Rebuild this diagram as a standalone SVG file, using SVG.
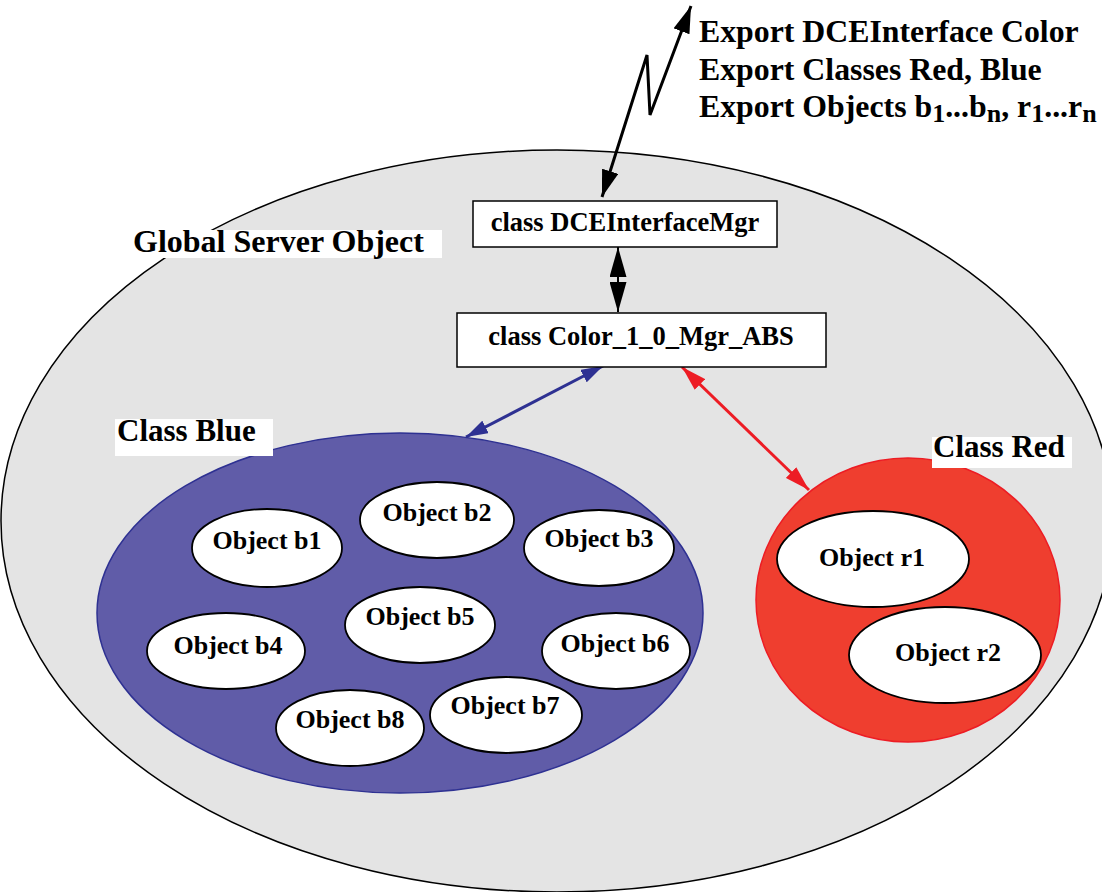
<svg xmlns="http://www.w3.org/2000/svg" width="1102" height="892" viewBox="0 0 1102 892">
  <style>
    text { font-family: "Liberation Serif", "Times New Roman", serif; font-weight: bold; fill: #000; }
    .lbl { font-size: 31px; }
    .lblg { font-size: 32px; }
    .exp { font-size: 31.8px; }
    .box { fill: #fff; stroke: #000; stroke-width: 1.5; }
    .boxt { font-size: 26.5px; text-anchor: middle; }
    .obj { fill: #fff; stroke: #000; stroke-width: 1.8; }
    .objt { font-size: 26px; text-anchor: middle; }
    .bg { fill: #fff; stroke: none; }
  </style>
  <defs>
    <marker id="ahBlack" markerUnits="userSpaceOnUse" markerWidth="27" markerHeight="17" refX="27" refY="8.5" orient="auto-start-reverse">
      <path d="M0,0 L27,8.5 L0,17 z" fill="#000"/>
    </marker>
    <marker id="ahV" markerUnits="userSpaceOnUse" markerWidth="30" markerHeight="17" refX="30" refY="8.5" orient="auto-start-reverse">
      <path d="M0,0 L30,8.5 L0,17 z" fill="#000"/>
    </marker>
    <marker id="ahBlue" markerUnits="userSpaceOnUse" markerWidth="22" markerHeight="14" refX="22" refY="7" orient="auto-start-reverse">
      <path d="M0,0 L22,7 L0,14 z" fill="#2e3192"/>
    </marker>
    <marker id="ahRed" markerUnits="userSpaceOnUse" markerWidth="25" markerHeight="15" refX="25" refY="7.5" orient="auto-start-reverse">
      <path d="M0,0 L25,7.5 L0,15 z" fill="#ed1c24"/>
    </marker>
  </defs>

  <g id="global-server">
    <ellipse cx="557" cy="521" rx="556" ry="371" fill="#e4e4e4" stroke="#000" stroke-width="1.5"/>
  </g>

  <g id="class-blue">
    <ellipse cx="400" cy="613" rx="303" ry="180" fill="#605ca8" stroke="#2e3192" stroke-width="1.5"/>
  </g>

  <g id="class-red">
    <ellipse cx="908" cy="600" rx="152" ry="142" fill="#ef3e2f" stroke="#ed1c24" stroke-width="1.5"/>
  </g>

  <g id="label-global">
    <rect class="bg" x="131" y="230" width="311" height="28"/>
    <text class="lblg" x="133" y="252">Global Server Object</text>
  </g>
  <g id="label-blue">
    <rect class="bg" x="115" y="419" width="158" height="37"/>
    <text class="lbl" x="117" y="441">Class Blue</text>
  </g>
  <g id="label-red">
    <rect class="bg" x="932" y="437" width="140" height="31"/>
    <text class="lbl" x="933" y="457">Class Red</text>
  </g>

  <g id="export-text">
    <text class="exp" x="699" y="42">Export DCEInterface Color</text>
    <text class="exp" x="699" y="80">Export Classes Red, Blue</text>
    <text class="exp" x="699" y="117">Export Objects b<tspan font-size="26" dy="5">1</tspan><tspan dy="-5">...b</tspan><tspan font-size="26" dy="5">n</tspan><tspan dy="-5">, r</tspan><tspan font-size="26" dy="5">1</tspan><tspan dy="-5">...r</tspan><tspan font-size="26" dy="5">n</tspan></text>
  </g>

  <g id="obj-b1"><ellipse class="obj" cx="267" cy="548" rx="75" ry="39"/><text class="objt" x="267" y="549">Object b1</text></g>
  <g id="obj-b2"><ellipse class="obj" cx="437" cy="520" rx="77" ry="38"/><text class="objt" x="437" y="521">Object b2</text></g>
  <g id="obj-b3"><ellipse class="obj" cx="599" cy="548" rx="75" ry="38"/><text class="objt" x="599" y="547">Object b3</text></g>
  <g id="obj-b4"><ellipse class="obj" cx="226" cy="651" rx="79" ry="38"/><text class="objt" x="228" y="654">Object b4</text></g>
  <g id="obj-b5"><ellipse class="obj" cx="420" cy="625" rx="75" ry="38"/><text class="objt" x="420" y="625">Object b5</text></g>
  <g id="obj-b6"><ellipse class="obj" cx="616" cy="651" rx="74" ry="38"/><text class="objt" x="615" y="652">Object b6</text></g>
  <g id="obj-b7"><ellipse class="obj" cx="506" cy="715" rx="76" ry="38"/><text class="objt" x="505" y="714">Object b7</text></g>
  <g id="obj-b8"><ellipse class="obj" cx="350" cy="728" rx="74" ry="38"/><text class="objt" x="350" y="728">Object b8</text></g>
  <g id="obj-r1"><ellipse class="obj" cx="873" cy="559" rx="96" ry="48"/><text class="objt" x="872" y="566">Object r1</text></g>
  <g id="obj-r2"><ellipse class="obj" cx="945" cy="655" rx="96" ry="48"/><text class="objt" x="948" y="661">Object r2</text></g>

  <g id="connectors" fill="none" stroke-linecap="butt">
    <polyline points="602,197 647,55 650,115 691,6" stroke="#000" stroke-width="3" stroke-linejoin="miter" marker-start="url(#ahBlack)" marker-end="url(#ahBlack)"/>
    <line x1="618" y1="247" x2="618" y2="312" stroke="#000" stroke-width="2" marker-start="url(#ahV)" marker-end="url(#ahV)"/>
    <line x1="603" y1="366" x2="466" y2="437" stroke="#2e3192" stroke-width="3" marker-start="url(#ahBlue)" marker-end="url(#ahBlue)"/>
    <line x1="682" y1="367" x2="809" y2="490" stroke="#ed1c24" stroke-width="3" marker-start="url(#ahRed)" marker-end="url(#ahRed)"/>
  </g>

  <g id="box-dce">
    <rect class="box" x="473" y="201" width="304" height="46"/>
    <text class="boxt" x="625" y="231">class DCEInterfaceMgr</text>
  </g>
  <g id="box-color">
    <rect class="box" x="457" y="313" width="369" height="54"/>
    <text class="boxt" x="641" y="345">class Color_1_0_Mgr_ABS</text>
  </g>
</svg>
